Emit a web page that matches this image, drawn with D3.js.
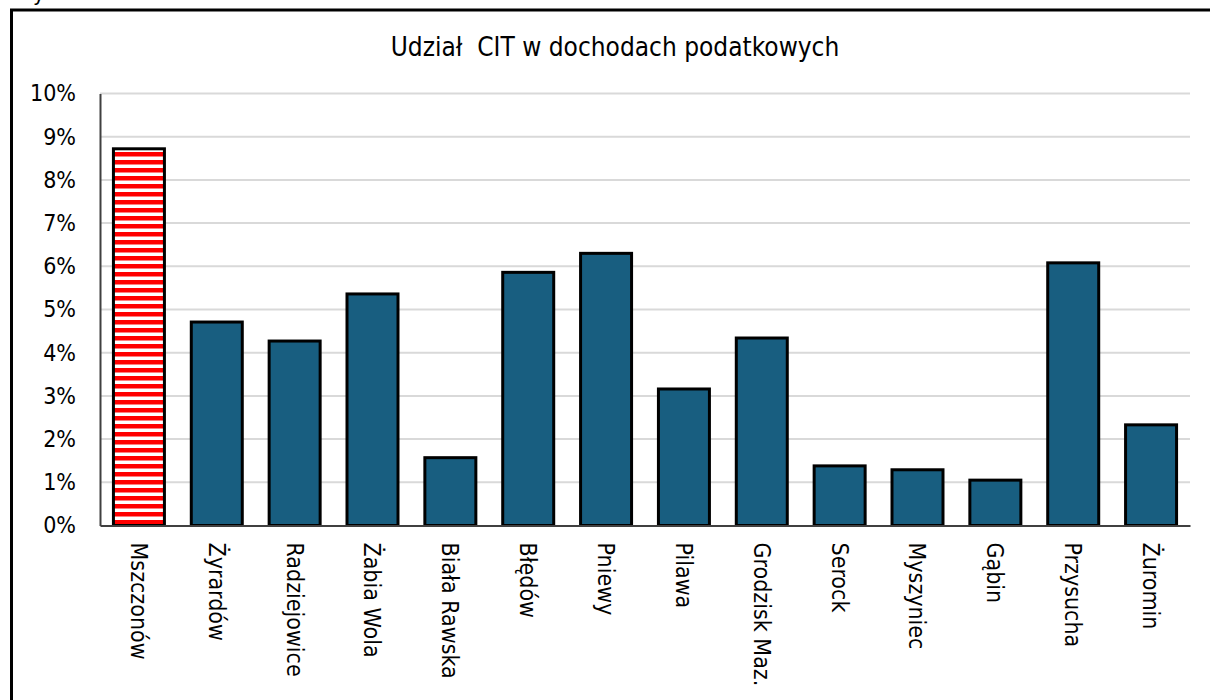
<!DOCTYPE html>
<html><head><meta charset="utf-8">
<script src="https://cdn.jsdelivr.net/npm/d3@7"></script>
<style>body{margin:0;background:#fff}svg{display:block}</style>
</head><body>
<script>
const categories = ["Mszczonów","Żyrardów","Radziejowice","Żabia Wola","Biała Rawska","Błędów","Pniewy","Pilawa","Grodzisk Maz.","Serock","Myszyniec","Gąbin","Przysucha","Żuromin"];
const values = [8.72,4.71,4.27,5.36,1.57,5.86,6.30,3.16,4.34,1.38,1.29,1.05,6.08,2.33];
const highlighted = ["Mszczonów"];
const yTicks = [0,1,2,3,4,5,6,7,8,9,10];
const title = "Udział  CIT w dochodach podatkowych";

const W = 1210, H = 700;
const font = "'DejaVu Sans Condensed','DejaVu Sans',sans-serif";
const svg = d3.select("body").append("svg").attr("width", W).attr("height", H);

const defs = svg.append("defs");
const pat = defs.append("pattern").attr("id","stripes").attr("patternUnits","userSpaceOnUse")
  .attr("width", 8).attr("height", 8);
pat.append("rect").attr("width",8).attr("height",8).attr("fill","#fff");
pat.append("rect").attr("y",0).attr("width",8).attr("height",4.5).attr("fill","#ff0000");

// frame
svg.append("rect").attr("x", 11.5).attr("y", 10).attr("width", 1300).attr("height", 800)
  .attr("fill","none").attr("stroke","#000").attr("stroke-width",3);
// cut-off text above frame
svg.append("text").attr("x", 33).attr("y", 1).attr("font-family", font).attr("font-size", 22).text("y");

const x = d3.scaleBand().domain(categories).range([100, 1190]).paddingInner(0.345).paddingOuter(0.1725);
const y = d3.scaleLinear().domain([0, 10]).range([525.5, 93.5]);

// grid
svg.append("g").selectAll("line").data(yTicks.filter(d=>d>0)).join("line")
  .attr("x1", 100).attr("x2", 1190).attr("y1", d=>y(d)).attr("y2", d=>y(d))
  .attr("stroke","#d9d9d9").attr("stroke-width",2);

// y axis
const yAxis = d3.axisLeft(y).tickValues(yTicks).tickFormat(d=>d+"%").tickSize(0).tickPadding(24);
const gy = svg.append("g").attr("transform","translate(100,0)").call(yAxis);
gy.select(".domain").attr("stroke","#404040").attr("stroke-width",2);
gy.selectAll("text").attr("font-family", font).attr("font-size", 23).attr("fill","#000");

// bars
svg.append("g").selectAll("rect").data(categories).join("rect")
  .attr("x", d=>x(d)).attr("width", x.bandwidth())
  .attr("y", (d,i)=>y(values[i])).attr("height", (d,i)=>y(0)-y(values[i]))
  .attr("fill", d=>highlighted.includes(d) ? "url(#stripes)" : "#185e80")
  .attr("stroke","#000").attr("stroke-width",3);

// x axis
const xAxis = d3.axisBottom(x).tickSize(0).tickPadding(0);
const gx = svg.append("g").attr("transform",`translate(0,${y(0)})`).call(xAxis);
gx.select(".domain").attr("stroke","#404040").attr("stroke-width",2);
gx.selectAll("text").attr("font-family", font).attr("font-size", 23).attr("fill","#000")
  .attr("text-anchor","start").attr("dy","0.35em")
  .attr("transform","translate(0,17) rotate(90)").attr("y",0).attr("x",0);

// title
svg.append("text").attr("x", 615).attr("y", 56).attr("text-anchor","middle")
  .attr("font-family", font).attr("font-size", 26).attr("fill","#000")
  .style("white-space","pre").attr("xml:space","preserve").text(title);
</script>
</body></html>
